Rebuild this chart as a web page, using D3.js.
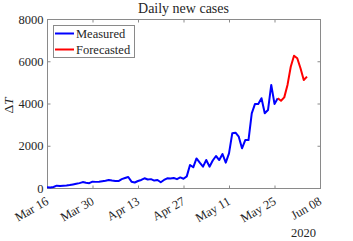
<!DOCTYPE html>
<meta charset="utf-8">
<style>
  body { margin: 0; background: #fff; }
  text { font-family: "Liberation Serif", "DejaVu Serif", serif; fill: #262626; }
  .domain { display: none; }
</style>
<body>
<div id="chart"></div>
<script src="https://d3js.org/d3.v7.min.js"></script>
<script>
// data: daily new cases, starting Mar 16 2020
var measuredStart = "2020-03-16";
var measured = [30, 20, 50, 110, 100, 110, 120, 140, 170, 200, 230, 280, 250, 230,
  300, 290, 300, 320, 340, 380, 350, 330, 330, 420, 470, 520, 300, 260,
  330, 380, 460, 400, 420, 350, 380, 270, 380, 460, 450, 470, 420, 500,
  440, 550, 1090, 980, 1400, 1200, 1010, 1325, 1010, 1300, 1515, 1325, 1610, 1200,
  1640, 2590, 2620, 2430, 1880, 2270, 2270, 3535, 3980, 3980, 4250, 3535, 3690, 4880,
  3980, 4250];
var forecastStart = "2020-05-26";
var forecast = [4250, 4130, 4290, 4880, 5740, 6260, 6140, 5670, 5110, 5270];
var xTicks = ["2020-03-16", "2020-03-30", "2020-04-13", "2020-04-27", "2020-05-11", "2020-05-25", "2020-06-08"];
var yTicks = [0, 2000, 4000, 6000, 8000];

var parse = d3.timeParse("%Y-%m-%d");
function toPoints(start, vals) {
  var s = parse(start);
  return vals.map(function (v, i) { return { date: d3.timeDay.offset(s, i), value: v }; });
}
var mData = toPoints(measuredStart, measured);
var fData = toPoints(forecastStart, forecast);

var width = 353, height = 241;
var margin = { top: 19, right: 33, bottom: 53, left: 47 };
var w = width - margin.left - margin.right;
var h = height - margin.top - margin.bottom;

var svg = d3.select("#chart").append("svg")
  .attr("width", width).attr("height", height);
var g = svg.append("g")
  .attr("transform", "translate(" + margin.left + "," + margin.top + ")");

var x = d3.scaleTime()
  .domain([parse(xTicks[0]), parse(xTicks[xTicks.length - 1])])
  .range([0, w]);
var y = d3.scaleLinear().domain([0, 8000]).range([h, 0]);

var tickDates = xTicks.map(parse);

// box
g.append("rect")
  .attr("x", 0.5).attr("y", 0.5)
  .attr("width", w).attr("height", h)
  .attr("fill", "none").attr("stroke", "#8a8a8a").attr("stroke-width", 1);

// x axis bottom
var xAxis = g.append("g")
  .attr("transform", "translate(0," + (h + 0.5) + ")")
  .call(d3.axisBottom(x).tickValues(tickDates).tickFormat(d3.timeFormat("%b %d")).tickSizeInner(-3).tickSizeOuter(0));
xAxis.selectAll("line").attr("stroke", "#8a8a8a");
xAxis.selectAll("text")
  .attr("font-size", "12.5px")
  .attr("text-anchor", "end")
  .attr("dy", null).attr("y", 0)
  .attr("transform", "translate(2,15) rotate(-30)");

// x ticks top
g.append("g")
  .attr("transform", "translate(0,0.5)")
  .call(d3.axisTop(x).tickValues(tickDates).tickFormat("").tickSizeInner(-3).tickSizeOuter(0))
  .selectAll("line").attr("stroke", "#8a8a8a");

// y axis left
var yAxis = g.append("g")
  .attr("transform", "translate(0.5,0)")
  .call(d3.axisLeft(y).tickValues(yTicks).tickFormat(d3.format("d")).tickSizeInner(-3).tickSizeOuter(0));
yAxis.selectAll("line").attr("stroke", "#8a8a8a");
yAxis.selectAll("text").attr("font-size", "12.5px").attr("x", -4);

// y ticks right
g.append("g")
  .attr("transform", "translate(" + (w + 0.5) + ",0)")
  .call(d3.axisRight(y).tickValues(yTicks).tickFormat("").tickSizeInner(-3).tickSizeOuter(0))
  .selectAll("line").attr("stroke", "#8a8a8a");

// lines
var line = d3.line()
  .x(function (d) { return x(d.date); })
  .y(function (d) { return y(d.value); });

g.append("path").datum(mData)
  .attr("d", line).attr("fill", "none")
  .attr("stroke", "#0000ff").attr("stroke-width", 2).attr("stroke-linejoin", "round");
g.append("path").datum(fData)
  .attr("d", line).attr("fill", "none")
  .attr("stroke", "#ff0000").attr("stroke-width", 2).attr("stroke-linejoin", "round");

// title
svg.append("text")
  .attr("x", margin.left + w / 2).attr("y", 13)
  .attr("text-anchor", "middle").attr("font-size", "14px")
  .text("Daily new cases");

// y label
svg.append("text")
  .attr("transform", "translate(13," + (margin.top + h / 2 + 2) + ") rotate(-90)")
  .attr("text-anchor", "middle").attr("font-size", "13.5px")
  .html("Δ<tspan font-style='italic'>T</tspan>");

// year label
svg.append("text")
  .attr("x", 316).attr("y", 237)
  .attr("text-anchor", "end").attr("font-size", "12.5px")
  .text("2020");

// legend
var legend = g.append("g").attr("transform", "translate(6,6)");
legend.append("rect")
  .attr("x", 0.5).attr("y", 0.5).attr("width", 81).attr("height", 32)
  .attr("fill", "#fff").attr("stroke", "#8a8a8a").attr("stroke-width", 1);
var items = [{ label: "Measured", color: "#0000ff" }, { label: "Forecasted", color: "#ff0000" }];
items.forEach(function (it, i) {
  var yy = 8.5 + i * 16;
  legend.append("line")
    .attr("x1", 2).attr("x2", 21).attr("y1", yy).attr("y2", yy)
    .attr("stroke", it.color).attr("stroke-width", 2);
  legend.append("text")
    .attr("x", 23).attr("y", yy).attr("dy", "0.35em")
    .attr("font-size", "12.5px").text(it.label);
});
</script>
</body>
